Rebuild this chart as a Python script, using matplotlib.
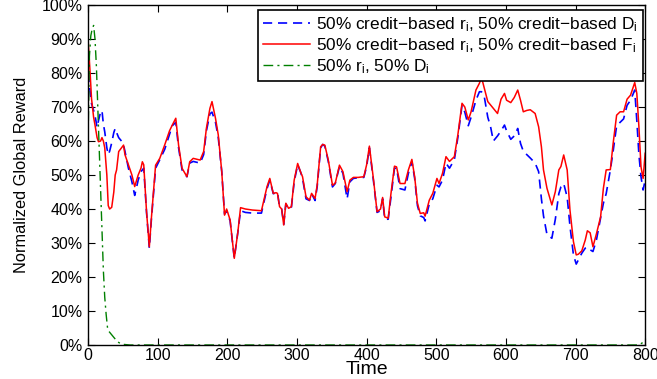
import matplotlib.pyplot as plt
from matplotlib.ticker import PercentFormatter

plt.rcParams['font.family'] = ['Liberation Sans', 'DejaVu Sans']

# time steps shared by the two credit-based runs
t = [0, 3, 5, 8, 10, 13, 15, 18, 20, 22, 24, 27, 29, 31, 34, 37, 39, 41, 44, 48,
     51, 53, 58, 63, 67, 72, 76, 78, 80, 84, 88, 91, 97, 103, 110, 117, 121, 126, 130, 135,
     142, 146, 151, 161, 166, 170, 175, 178, 183, 187, 192, 196, 199, 204, 210, 215, 219, 226, 236, 249,
     257, 261, 266, 270, 272, 275, 278, 281, 284, 288, 292, 296, 301, 305, 308, 313, 318, 321, 326, 329,
     334, 337, 340, 345, 351, 355, 361, 366, 372, 376, 381, 388, 396, 400, 404, 410, 415, 420, 423, 426,
     431, 435, 440, 443, 448, 455, 460, 465, 469, 473, 477, 482, 484, 490, 495, 501, 504, 509, 514, 519,
     526, 531, 537, 541, 546, 550, 557, 562, 565, 569, 574, 578, 582, 588, 593, 598, 601, 607, 612, 617,
     621, 625, 630, 635, 642, 647, 651, 654, 659, 666, 671, 676, 679, 683, 688, 692, 697, 701, 704, 709,
     714, 717, 721, 725, 730, 736, 740, 744, 750, 754, 759, 764, 769, 774, 779, 785, 788, 791, 794, 797,
     800]

# 50% credit-based r_i, 50% credit-based F_i (red)
red = [90, 80, 72.5, 67, 64.7, 61, 59.8, 60, 61, 60, 58, 50, 41, 40, 40.5, 45, 50, 51.5, 56.9, 58,
       58.8, 56, 53, 50, 46.6, 50, 52, 53.9, 53, 39.2, 28.9, 37.4, 52.9, 54.9, 58.8, 63, 64.7, 66.7, 58.8, 52,
       49.5, 53.9, 54.9, 54.4, 56.9, 63.8, 69.6, 71.6, 66.7, 61.8, 51, 38.2, 40, 36.8, 25.5, 33, 40.4, 40, 39.7, 39.5,
       46.6, 49, 44.6, 44.8, 44.6, 40.7, 40, 35.3, 41.7, 40.2, 40.7, 48.5, 53.4, 51, 49.5, 43.6, 42.6, 44.6, 43.1, 47,
       58.3, 59, 58.8, 54.4, 47, 47.6, 52.9, 51, 45.1, 48.5, 49.3, 49.3, 49.5, 53, 58.5, 48.5, 39.2, 40, 43.4, 37.7,
       37.3, 44.6, 52.6, 52.4, 47.5, 47.5, 51.5, 54.6, 49.5, 41.7, 38.7, 38.9, 37.9, 42.6, 44.6, 49, 47.5, 50.5, 55.4, 54,
       55.4, 61.8, 71.1, 70, 66.2, 68.6, 75, 77, 78.7, 75.5, 71.6, 70.6, 69.6, 68.1, 72.3, 74, 72, 71.3, 72.8, 75,
       72, 68.6, 69, 69.2, 68.1, 64.2, 58.3, 51.5, 46.1, 41.2, 45.1, 51.5, 52.5, 55.9, 51.5, 39.7, 30.4, 26.5, 26.7, 27.7,
       30.9, 33.6, 33, 28.9, 32.7, 37.7, 46.1, 51.5, 51.6, 59.3, 67.6, 68.6, 68.6, 72.3, 73.5, 77.2, 74, 64.2, 52.4, 49,
       56.4]

# 50% credit-based r_i, 50% credit-based D_i (blue)
blue = [80, 74.5, 71, 69, 67.5, 64, 66, 68.5, 69, 65, 62.7, 58, 56, 57, 59.5, 62.5, 63.7, 62.5, 61, 60,
        58.8, 57, 52, 48, 44, 48.5, 51, 51.5, 52, 39, 28.5, 37, 52, 54.5, 57.5, 62, 64.5, 65.5, 58, 51.5,
        49.5, 53.5, 54, 53.5, 56, 63, 68, 68.5, 65.5, 61, 51, 38.5, 39.5, 36.5, 25.5, 33, 39.5, 39, 38.8, 38.8,
        46, 48.5, 44.5, 44.8, 45, 40.5, 40, 35.5, 41.5, 40, 40.5, 48, 53, 51, 49, 43, 42.5, 44.5, 42.5, 46.5,
        58, 59, 58.5, 54, 46.5, 47.5, 52.5, 50.5, 43, 48, 49, 49.2, 49.3, 52.5, 58, 48, 39, 39.5, 43, 37,
        37, 43.5, 52, 52, 46, 45.6, 50.5, 54, 49, 41, 38, 37.5, 36.5, 41.5, 43, 47, 46.5, 48.5, 53.5, 52,
        54.5, 61, 70.5, 68.5, 64.5, 67, 72, 74.5, 74.5, 73, 67, 64.2, 60, 61.5, 63, 64.7, 63, 60.5, 61.5, 63.7,
        59.3, 57, 56, 55, 53.5, 51, 43, 38, 32.5, 31.4, 37, 44.5, 46.5, 47.5, 43.5, 35, 26.5, 23.8, 25, 27,
        28.5, 28.8, 28, 27.5, 30.9, 37.3, 41.7, 44.5, 51.5, 57, 64.5, 65.5, 66.5, 70.5, 72, 75, 66, 56, 49.5, 45.6,
        48.5]

# 50% r_i, 50% D_i (green)
green_t = [0, 2, 4, 6, 8, 10, 12, 14, 16, 18, 20, 22, 24, 26, 28, 30, 34, 38, 42, 46,
           50, 60, 100, 200, 300, 400, 500, 600, 700, 790, 795, 800]
green = [60, 85, 91, 93, 94, 90, 82, 70, 58, 46, 34, 22, 14, 9, 5, 4, 3, 2, 1, 0.5,
         0.2, 0, 0, 0, 0, 0, 0, 0, 0, 0, 0.5, 1.5]

labels = ["50% credit\u2212based r$\\mathregular{_i}$, 50% credit\u2212based D$\\mathregular{_i}$",
          "50% credit\u2212based r$\\mathregular{_i}$, 50% credit\u2212based F$\\mathregular{_i}$",
          "50% r$\\mathregular{_i}$, 50% D$\\mathregular{_i}$"]

fig = plt.figure(figsize=(6.57, 3.79), dpi=100)
ax = fig.add_axes([0.134, 0.0897, 0.848, 0.897])

ax.plot(t, blue, color='blue', lw=1.2, linestyle=(0, (5.5, 3.5)), label=labels[0])
ax.plot(t, red, color='red', lw=1.1, label=labels[1])
ax.plot(green_t, green, color=(0, 0.5, 0), lw=1.0, linestyle=(0, (7, 3, 1.5, 3)), label=labels[2])

ax.set_xlim(0, 800)
ax.set_ylim(0, 100)
ax.set_xticks(range(0, 801, 100))
ax.set_yticks(range(0, 101, 10))
ax.yaxis.set_major_formatter(PercentFormatter(decimals=0))
ax.tick_params(direction='in', top=True, right=True, length=5, width=0.8, labelsize=11.5)
ax.tick_params(axis='x', pad=2)
ax.tick_params(axis='y', pad=4)
for s in ax.spines.values():
    s.set_linewidth(1.0)

ax.set_xlabel("Time", fontsize=14, labelpad=-1)
ax.set_ylabel("Normalized Global Reward", fontsize=11.8, labelpad=9)

leg = ax.legend(loc='upper right', bbox_to_anchor=(0.996, 0.985), borderaxespad=0,
                fancybox=False, edgecolor='black', framealpha=1, fontsize=12.4,
                handlelength=2.7, labelspacing=0.12, borderpad=0.3, handletextpad=0.35)
leg.get_frame().set_linewidth(1.2)

fig.savefig("out.png", dpi=100)
